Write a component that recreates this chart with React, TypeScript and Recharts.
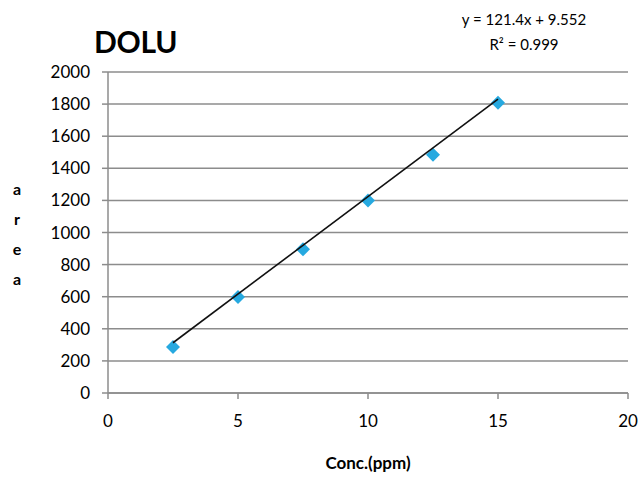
import React from 'react';
import {
  ScatterChart, Scatter, XAxis, YAxis, CartesianGrid,
} from 'recharts';

// calibration standards: concentration (ppm) vs peak area
const concentrations = [2.5, 5, 7.5, 10, 12.5, 15];
const areas = [287, 598, 895, 1200, 1485, 1809];

// linear trendline as reported on the chart
const slope = 121.4;
const intercept = 9.552;
const rSquared = 0.999;
const trendRange = [2.5, 15];

const xTicks = [0, 5, 10, 15, 20];
const yTicks = [0, 200, 400, 600, 800, 1000, 1200, 1400, 1600, 1800, 2000];

const points = concentrations.map((x, i) => ({ x, y: areas[i] }));
const trend = trendRange.map((x) => ({ x, y: slope * x + intercept }));

const FONT = 'Lato, "Open Sans", sans-serif';
const GRID = '#8c8c8c';

const Diamond = (props: any) => {
  const { cx, cy } = props;
  const r = 7;
  return (
    <polygon
      points={`${cx},${cy - r} ${cx + r},${cy} ${cx},${cy + r} ${cx - r},${cy}`}
      fill="#26a9e0"
    />
  );
};

const YLabel = () => (
  <text x={17} y={0} textAnchor="middle" fontFamily={FONT} fontWeight={700} fontSize={16} fill="#000">
    {['a', 'r', 'e', 'a'].map((ch, i) => (
      <tspan key={i} x={17} y={195 + i * 30}>{ch}</tspan>
    ))}
  </text>
);

export default function App() {
  return (
    <div style={{ position: 'absolute', left: 0, top: 0, width: 638, height: 478, background: '#fff', fontFamily: FONT }}>
      <div style={{ position: 'absolute', left: 94, top: 23, fontSize: 30, fontWeight: 700, color: '#000', letterSpacing: -0.3 }}>
        DOLU
      </div>
      <div style={{ position: 'absolute', left: 436, top: 7, width: 176, textAlign: 'center', fontSize: 15, lineHeight: '25px', color: '#000' }}>
        <div>y = {slope}x + {intercept}</div>
        <div>R² = {rSquared}</div>
      </div>
      <ScatterChart
        width={638}
        height={478}
        margin={{ top: 72, right: 10, bottom: 55, left: 48 }}
      >
        <CartesianGrid horizontal vertical={false} stroke={GRID} strokeWidth={1.5} />
        <XAxis
          type="number"
          dataKey="x"
          domain={[0, 20]}
          ticks={xTicks}
          stroke={GRID}
          strokeWidth={1.5}
          tickSize={6}
          tickMargin={16}
          height={30}
          tick={{ fill: '#000', fontSize: 17, fontFamily: FONT }}
          label={{ value: 'Conc.(ppm)', position: 'insideBottom', offset: -46, fill: '#000', fontSize: 17, fontWeight: 700, fontFamily: FONT }}
        />
        <YAxis
          type="number"
          dataKey="y"
          domain={[0, 2000]}
          ticks={yTicks}
          stroke={GRID}
          strokeWidth={1.5}
          tickSize={6}
          tickMargin={12}
          width={60}
          tick={{ fill: '#000', fontSize: 17, fontFamily: FONT }}
          label={<YLabel />}
        />
        <Scatter data={points} shape={<Diamond />} isAnimationActive={false} />
        <Scatter
          data={trend}
          line={{ stroke: '#111', strokeWidth: 1.6 }}
          shape={() => null}
          isAnimationActive={false}
        />
      </ScatterChart>
    </div>
  );
}
